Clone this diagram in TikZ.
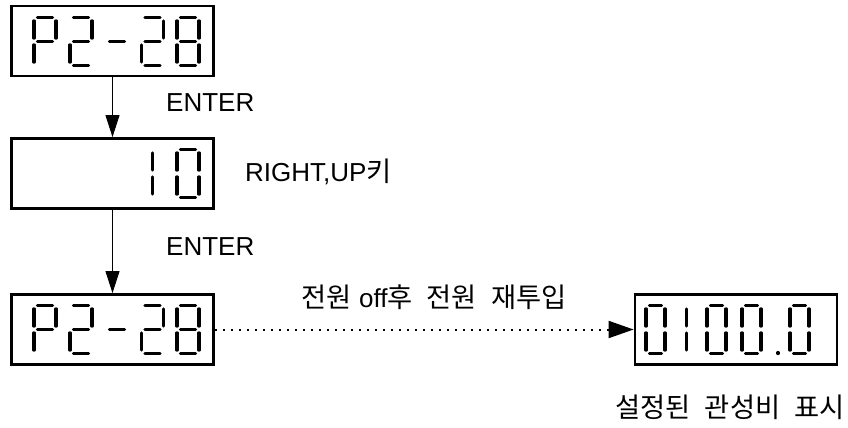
\documentclass[tikz,border=0pt]{standalone}
\usepackage{fontspec}
\setmainfont{Liberation Sans}
\newfontfamily\kr{Noto Sans CJK KR}[WordSpace=2.3, Scale=1.05]
\usepackage{tikz}
\usetikzlibrary{arrows.meta,positioning}

% seven segment geometry
\newcommand{\digw}{22}
\newcommand{\digh}{48}
\newcommand{\diggap}{3.4}

\tikzset{
  panel/.style={draw, line width=2.8pt, minimum width=202pt, minimum height=70pt, inner sep=0pt},
  segline/.style={line width=3.2pt, line cap=round},
  flow/.style={line width=0.9pt, -{Triangle[length=22pt,width=14pt]}},
  lbl/.style={font=\fontsize{26}{30}\selectfont, inner sep=0pt},
  seg a/.code={\draw[segline] (\diggap,0) -- (\digw-\diggap,0);},
  seg b/.code={\draw[segline] (\digw,\diggap) -- (\digw,\digh/2-\diggap);},
  seg c/.code={\draw[segline] (\digw,\digh/2+\diggap) -- (\digw,\digh-\diggap);},
  seg d/.code={\draw[segline] (\diggap,\digh) -- (\digw-\diggap,\digh);},
  seg e/.code={\draw[segline] (0,\digh/2+\diggap) -- (0,\digh-\diggap);},
  seg f/.code={\draw[segline] (0,\diggap) -- (0,\digh/2-\diggap);},
  seg g/.code={\draw[segline] (\diggap,\digh/2) -- (\digw-\diggap,\digh/2);},
  seg i/.code={\draw[segline] (\digw/2,\diggap) -- (\digw/2,\digh/2-\diggap);},
  seg j/.code={\draw[segline] (\digw/2,\digh/2+\diggap) -- (\digw/2,\digh-\diggap);},
  seg p/.code={\draw[segline] (0,\digh-1) -- (0,\digh);},
}

% \segdigit{x}{y}{segments}
\newcommand{\segdigit}[3]{%
  \begin{scope}[shift={(#1,#2)}]
    \foreach \s in {#3} {\tikzset{seg \s}}
  \end{scope}}

\begin{document}
\begin{tikzpicture}[x=1pt, y=-1pt]
  \useasboundingbox (0,0) rectangle (848,428);

  % display panels
  \node[panel] (p1) at (112.5,41) {};
  \node[panel] (p2) at (112.5,173.5) {};
  \node[panel] (p3) at (112.5,329.5) {};
  \node[panel] (p4) at (736,329.5) {};

  % P2-28
  \foreach \y in {17.5,305.5} {
    \segdigit{34}{\y}{a,b,f,g,e}
    \segdigit{70}{\y}{a,b,g,e,d}
    \segdigit{106}{\y}{g}
    \segdigit{141.5}{\y}{a,b,g,e,d}
    \segdigit{177}{\y}{a,b,c,d,e,f,g}
  }

  % 10
  \segdigit{141.5}{149.5}{i,j}
  \segdigit{177}{149.5}{a,b,c,d,e,f}

  % 0100.0
  \renewcommand{\digw}{19}
  \segdigit{646}{305.5}{a,b,c,d,e,f}
  \segdigit{677}{305.5}{i,j}
  \segdigit{707}{305.5}{a,b,c,d,e,f}
  \segdigit{742}{305.5}{a,b,c,d,e,f}
  \segdigit{778}{305.5}{p}
  \segdigit{790}{305.5}{a,b,c,d,e,f}

  % connectors
  \draw[flow] (p1.south) -- (p2.north);
  \draw[flow] (p2.south) -- (p3.north);
  \draw[line width=2pt, dash pattern=on 2pt off 6pt,
        -{Triangle[length=25pt,width=17pt]}] (p3.east) -- (p4.west);

  % labels
  \node[lbl, anchor=west] (enter1) at (166,103) {ENTER};
  \node[lbl, anchor=west] (keys) at (245,172) {RIGHT,UP{\kr 키}};
  \node[lbl, anchor=west] (enter2) at (166,247) {ENTER};
  \node[lbl] (reboot) at (434,297) {{\kr 전원} off{\kr 후 전원 재투입}};
  \node[lbl] (shown) at (730,407) {\kr 설정된 관성비 표시};
\end{tikzpicture}
\end{document}
